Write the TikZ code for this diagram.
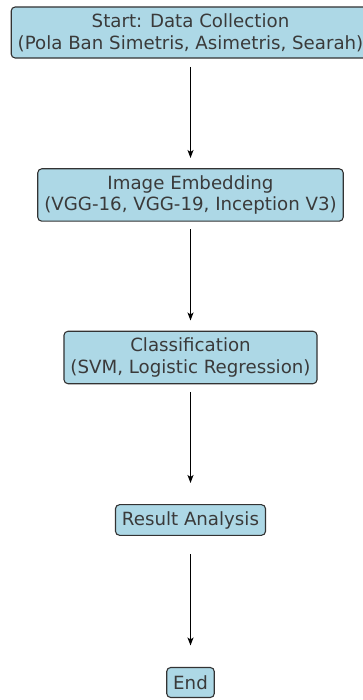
\documentclass[tikz,border=0pt]{standalone}
\usepackage{fontspec}
\setmainfont{DejaVu Sans}
\usetikzlibrary{arrows.meta}
\definecolor{boxfill}{HTML}{ADD8E6}
\definecolor{boxedge}{HTML}{333333}
\definecolor{txtcol}{HTML}{3A3A3A}
\tikzset{
  flowbox/.style={draw=boxedge, fill=boxfill, line width=1.1pt, rounded corners=4pt,
    align=center, font=\fontsize{18.2pt}{21.8pt}\selectfont, text=txtcol,
    inner xsep=6.5pt, inner ysep=6.5pt, minimum height=30pt},
  flowarrow/.style={draw=black, line width=1.2pt, -{Stealth[length=8pt,width=6pt,inset=2pt]}}
}
\begin{document}
\begin{tikzpicture}[x=1pt,y=1pt]
\useasboundingbox (0,0) rectangle (363,700);
\node[flowbox] (b1) at (190.5,667.5) {Start: Data Collection\\(Pola Ban Simetris, Asimetris, Searah)};
\node[flowbox] (b2) at (190.5,505) {Image Embedding\\(VGG-16, VGG-19, Inception V3)};
\node[flowbox] (b3) at (190.5,342.5) {Classification\\(SVM, Logistic Regression)};
\node[flowbox] (b4) at (190.5,180) {Result Analysis};
\node[flowbox] (b5) at (190.5,17.5) {End};
\draw[flowarrow] ([yshift=-34.5pt]b1.center) -- ([yshift=37pt]b2.center);
\draw[flowarrow] ([yshift=-34.5pt]b2.center) -- ([yshift=37pt]b3.center);
\draw[flowarrow] ([yshift=-34.5pt]b3.center) -- ([yshift=37pt]b4.center);
\draw[flowarrow] ([yshift=-34.5pt]b4.center) -- ([yshift=37pt]b5.center);
\end{tikzpicture}
\end{document}
